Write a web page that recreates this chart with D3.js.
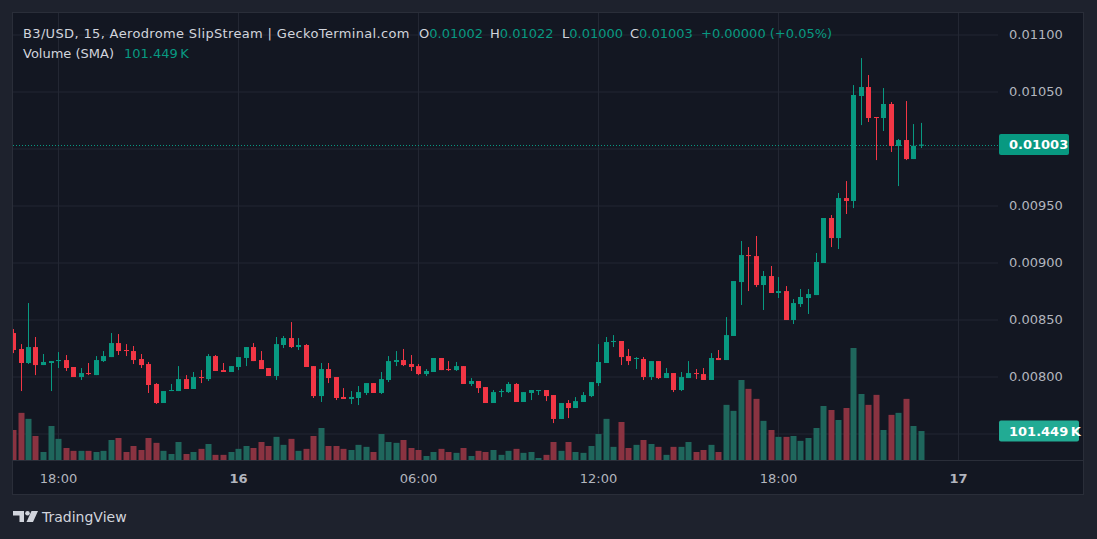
<!DOCTYPE html>
<html>
<head>
<meta charset="utf-8">
<script src="https://cdn.jsdelivr.net/npm/d3@7"></script>
<style>
  html, body { margin: 0; padding: 0; background: #1e222d; }
  svg { display: block; font-family: "DejaVu Sans", sans-serif; }
</style>
</head>
<body>
<svg id="chart"></svg>
<script>
let width = 1097
let height = 539

// 15 minute candles, B3/USD
let startTime = Date.UTC(2025, 2, 15, 16, 30)
let step = 15 * 60 * 1000

let open = [
  0.008377, 0.008237, 0.008114, 0.008254, 0.008096, 0.008114, 0.008131, 0.008140, 0.008079, 0.007991,
  0.008026, 0.008008, 0.008131, 0.008166, 0.008289, 0.008228, 0.008219, 0.008149, 0.008105, 0.007930,
  0.007763, 0.007868, 0.007868, 0.007973, 0.007886, 0.007991, 0.007973, 0.008175, 0.008052, 0.008035,
  0.008079, 0.008158, 0.008254, 0.008140, 0.008070, 0.008000, 0.008272, 0.008333, 0.008254, 0.008272,
  0.008087, 0.007824, 0.008061, 0.007991, 0.007816, 0.007798, 0.007807, 0.007851, 0.007938, 0.007851,
  0.007965, 0.008123, 0.008140, 0.008105, 0.008087, 0.008017, 0.008035, 0.008158, 0.008061, 0.008052,
  0.008087, 0.007930, 0.007956, 0.007903, 0.007763, 0.007859, 0.007859, 0.007930, 0.007772, 0.007851,
  0.007868, 0.007877, 0.007833, 0.007623, 0.007763, 0.007719, 0.007772, 0.007824, 0.007938, 0.008114,
  0.008298, 0.008307, 0.008175, 0.008149, 0.008149, 0.007991, 0.008131, 0.007982, 0.008026, 0.007877,
  0.007982, 0.008026, 0.008017, 0.007965, 0.008158, 0.008140, 0.008351, 0.008824, 0.009061, 0.009052,
  0.008798, 0.008877, 0.008728, 0.008745, 0.008491, 0.008631, 0.008684, 0.008710, 0.008991, 0.009386,
  0.009210, 0.009561, 0.009535, 0.010456, 0.010535, 0.010272, 0.010263, 0.010386, 0.010017, 0.010070,
  0.009903, 0.010020
]
let high = [
  0.008412, 0.008280, 0.008640, 0.008342, 0.008193, 0.008131, 0.008210, 0.008184, 0.008079, 0.008070,
  0.008114, 0.008175, 0.008219, 0.008377, 0.008368, 0.008280, 0.008263, 0.008193, 0.008123, 0.007938,
  0.007868, 0.007930, 0.008087, 0.008008, 0.008035, 0.008052, 0.008193, 0.008184, 0.008114, 0.008087,
  0.008166, 0.008254, 0.008289, 0.008219, 0.008070, 0.008342, 0.008351, 0.008473, 0.008333, 0.008280,
  0.008087, 0.008114, 0.008114, 0.007991, 0.007894, 0.007868, 0.007912, 0.007938, 0.007938, 0.008035,
  0.008175, 0.008219, 0.008237, 0.008184, 0.008105, 0.008061, 0.008158, 0.008158, 0.008131, 0.008123,
  0.008087, 0.007982, 0.007956, 0.007903, 0.007877, 0.007886, 0.007947, 0.007938, 0.007859, 0.007877,
  0.007877, 0.007877, 0.007833, 0.007763, 0.007789, 0.007815, 0.007859, 0.007947, 0.008280, 0.008342,
  0.008359, 0.008307, 0.008237, 0.008166, 0.008166, 0.008131, 0.008131, 0.008070, 0.008026, 0.008035,
  0.008131, 0.008061, 0.008070, 0.008201, 0.008228, 0.008517, 0.008833, 0.009184, 0.009131, 0.009228,
  0.008921, 0.008965, 0.008868, 0.008789, 0.008675, 0.008763, 0.008763, 0.009079, 0.009386, 0.009412,
  0.009605, 0.009710, 0.010552, 0.010789, 0.010640, 0.010272, 0.010526, 0.010403, 0.010079, 0.010412,
  0.010210, 0.010220
]
let low = [
  0.008201, 0.007868, 0.008105, 0.008008, 0.008096, 0.007868, 0.008070, 0.008044, 0.007991, 0.007965,
  0.008008, 0.008008, 0.008123, 0.008166, 0.008184, 0.008175, 0.008105, 0.008070, 0.007851, 0.007754,
  0.007763, 0.007868, 0.007868, 0.007886, 0.007886, 0.007938, 0.007956, 0.008044, 0.008035, 0.008035,
  0.008052, 0.008087, 0.008131, 0.008061, 0.008000, 0.007965, 0.008245, 0.008245, 0.008228, 0.008079,
  0.007807, 0.007772, 0.007938, 0.007789, 0.007798, 0.007754, 0.007745, 0.007833, 0.007851, 0.007842,
  0.007947, 0.008087, 0.008087, 0.008044, 0.008008, 0.008000, 0.008035, 0.008052, 0.008044, 0.008044,
  0.007930, 0.007912, 0.007851, 0.007763, 0.007763, 0.007815, 0.007851, 0.007772, 0.007772, 0.007789,
  0.007833, 0.007780, 0.007587, 0.007623, 0.007631, 0.007719, 0.007772, 0.007815, 0.007912, 0.008114,
  0.008254, 0.008096, 0.008096, 0.008061, 0.007965, 0.007965, 0.007973, 0.007982, 0.007859, 0.007868,
  0.007982, 0.007973, 0.007965, 0.007965, 0.008140, 0.008140, 0.008351, 0.008623, 0.008745, 0.008780,
  0.008579, 0.008728, 0.008684, 0.008491, 0.008456, 0.008605, 0.008544, 0.008710, 0.008991, 0.009131,
  0.009114, 0.009421, 0.009473, 0.010201, 0.010228, 0.009894, 0.010149, 0.009965, 0.009666, 0.009894,
  0.009903, 0.010000
]
let close = [
  0.008228, 0.008114, 0.008254, 0.008096, 0.008123, 0.008131, 0.008140, 0.008070, 0.007991, 0.008026,
  0.008017, 0.008140, 0.008175, 0.008289, 0.008219, 0.008219, 0.008140, 0.008096, 0.007921, 0.007763,
  0.007868, 0.007877, 0.007973, 0.007886, 0.007991, 0.007982, 0.008175, 0.008044, 0.008035, 0.008087,
  0.008166, 0.008254, 0.008131, 0.008061, 0.008000, 0.008280, 0.008333, 0.008254, 0.008272, 0.008079,
  0.007824, 0.008061, 0.007982, 0.007807, 0.007798, 0.007816, 0.007859, 0.007938, 0.007851, 0.007973,
  0.008131, 0.008140, 0.008096, 0.008079, 0.008017, 0.008044, 0.008158, 0.008052, 0.008052, 0.008087,
  0.007930, 0.007956, 0.007894, 0.007763, 0.007859, 0.007868, 0.007930, 0.007772, 0.007859, 0.007877,
  0.007877, 0.007824, 0.007623, 0.007763, 0.007719, 0.007780, 0.007833, 0.007947, 0.008123, 0.008298,
  0.008307, 0.008166, 0.008131, 0.008158, 0.007991, 0.008131, 0.007982, 0.008026, 0.007877, 0.007991,
  0.008026, 0.008017, 0.007965, 0.008158, 0.008140, 0.008359, 0.008833, 0.009061, 0.009052, 0.008798,
  0.008877, 0.008728, 0.008745, 0.008491, 0.008640, 0.008693, 0.008719, 0.009000, 0.009386, 0.009210,
  0.009561, 0.009535, 0.010465, 0.010535, 0.010263, 0.010263, 0.010386, 0.010017, 0.010070, 0.009903,
  0.010020, 0.010030
]
// volume in thousands
let volume = [
  105, 165, 144, 84, 28, 119, 74, 42, 32, 32,
  32, 28, 32, 70, 77, 28, 49, 35, 77, 60,
  32, 21, 63, 21, 28, 39, 56, 18, 18, 28,
  39, 49, 42, 63, 49, 81, 53, 74, 32, 39,
  84, 112, 49, 49, 39, 35, 53, 46, 28, 91,
  63, 60, 70, 42, 35, 14, 28, 39, 28, 25,
  42, 14, 32, 28, 35, 18, 32, 39, 25, 28,
  7, 18, 63, 32, 63, 28, 25, 49, 91, 144,
  46, 133, 42, 53, 70, 56, 46, 18, 46, 46,
  63, 28, 35, 53, 28, 193, 172, 280, 249, 214,
  137, 105, 81, 81, 84, 67, 77, 112, 189, 175,
  140, 182, 392, 231, 193, 228, 105, 158, 165, 214,
  119, 101.449
]

let priceTicks = [0.0075, 0.008, 0.0085, 0.009, 0.0095, 0.01, 0.0105, 0.011]
let priceLabels = [0.008, 0.0085, 0.009, 0.0095, 0.0105, 0.011]
let timeTicks = [
  Date.UTC(2025, 2, 15, 18), Date.UTC(2025, 2, 16, 0), Date.UTC(2025, 2, 16, 6),
  Date.UTC(2025, 2, 16, 12), Date.UTC(2025, 2, 16, 18), Date.UTC(2025, 2, 17, 0)
].map(d => new Date(d))
let changeText = '+0.00000 (+0.05%)'

let candles = open.map((o, i) => ({
  t: new Date(startTime + i * step),
  o: o, h: high[i], l: low[i], c: close[i], v: volume[i]
}))
let last = candles[candles.length - 1]

let up = '#089981'
let down = '#f23645'
let upVol = '#1f665c'
let downVol = '#8a3341'
let grid = '#232733'
let textCol = '#b2b5be'

let plotLeft = 13, plotRight = 998, plotTop = 13, plotBottom = 460

let xScale = d3.scaleUtc()
  .domain([timeTicks[0], timeTicks[5]])
  .range([58, 958])

let yScale = d3.scaleLinear()
  .domain([0.0075, 0.011])
  .range([433, 34])

let vScale = d3.scaleLinear()
  .domain([0, 350])
  .range([plotBottom, plotBottom - 100])

let fmt = d3.format('.5f')
let color = d => d.c >= d.o ? up : down

let svg = d3.select('#chart')
  .attr('width', width)
  .attr('height', height)

svg.append('rect')
  .attr('width', width).attr('height', height)
  .attr('fill', '#1e222d')

svg.append('rect')
  .attr('x', 12.5).attr('y', 12.5)
  .attr('width', 1071).attr('height', 482)
  .attr('fill', '#131722')
  .attr('stroke', '#2a2e39')

svg.append('defs').append('clipPath').attr('id', 'plot')
  .append('rect')
  .attr('x', plotLeft).attr('y', plotTop)
  .attr('width', plotRight - plotLeft).attr('height', plotBottom - plotTop)

// grid
let yGrid = svg.append('g')
  .attr('transform', 'translate(' + plotLeft + ',0.5)')
  .call(d3.axisRight(yScale).tickValues(priceTicks).tickSize(plotRight - plotLeft).tickFormat(''))
yGrid.select('.domain').remove()
yGrid.selectAll('line').attr('stroke', grid)

let xGrid = svg.append('g')
  .attr('transform', 'translate(0,' + plotBottom + ')')
  .call(d3.axisBottom(xScale).tickValues(timeTicks).tickSize(-(plotBottom - plotTop)).tickFormat(''))
xGrid.select('.domain').remove()
xGrid.selectAll('line').attr('stroke', grid)

svg.append('line')
  .attr('x1', plotLeft).attr('x2', 1083)
  .attr('y1', plotBottom + 0.5).attr('y2', plotBottom + 0.5)
  .attr('stroke', '#2a2e39')

let plot = svg.append('g').attr('clip-path', 'url(#plot)')

// volume
plot.selectAll('rect.vol')
  .data(candles)
  .enter()
  .append('rect')
  .attr('class', 'vol')
  .attr('x', d => Math.round(xScale(d.t)) - 2.5)
  .attr('y', d => vScale(d.v))
  .attr('width', 6)
  .attr('height', d => plotBottom - vScale(d.v))
  .attr('fill', d => d.c >= d.o ? upVol : downVol)

// last price line
plot.append('line')
  .attr('x1', plotLeft).attr('x2', plotRight)
  .attr('y1', Math.round(yScale(last.c)) + 0.5).attr('y2', Math.round(yScale(last.c)) + 0.5)
  .attr('stroke', up)
  .attr('stroke-dasharray', '1,2')

// candles
let candle = plot.selectAll('g.candle')
  .data(candles)
  .enter()
  .append('g')
  .attr('class', 'candle')

candle.append('line')
  .attr('x1', d => Math.round(xScale(d.t)) + 0.5)
  .attr('x2', d => Math.round(xScale(d.t)) + 0.5)
  .attr('y1', d => yScale(d.h))
  .attr('y2', d => yScale(d.l))
  .attr('stroke', color)

candle.append('rect')
  .attr('x', d => Math.round(xScale(d.t)) - 2)
  .attr('y', d => yScale(Math.max(d.o, d.c)))
  .attr('width', 5)
  .attr('height', d => Math.max(1, yScale(Math.min(d.o, d.c)) - yScale(Math.max(d.o, d.c))))
  .attr('fill', color)

// price axis
let yAxis = svg.append('g')
  .attr('transform', 'translate(1009,0)')
  .call(d3.axisRight(yScale).tickValues(priceLabels).tickSize(0).tickPadding(0).tickFormat(fmt))
yAxis.select('.domain').remove()
yAxis.selectAll('text')
  .attr('fill', textCol)
  .style('font-size', '13px')
  .style('font-family', '"DejaVu Sans", sans-serif')

// time axis
let xAxis = svg.append('g')
  .attr('transform', 'translate(0,470)')
  .call(d3.axisBottom(xScale).tickValues(timeTicks).tickSize(0).tickPadding(4)
    .tickFormat(d => d.getUTCHours() === 0 ? d3.utcFormat('%-d')(d) : d3.utcFormat('%H:%M')(d)))
xAxis.select('.domain').remove()
xAxis.selectAll('text')
  .attr('fill', textCol)
  .style('font-size', '13px')
  .style('font-family', '"DejaVu Sans", sans-serif')
  .style('font-weight', d => d.getUTCHours() === 0 ? 'bold' : 'normal')

// last price and volume labels
svg.append('rect')
  .attr('x', 999).attr('y', yScale(last.c) - 10.5)
  .attr('width', 70).attr('height', 21).attr('rx', 2)
  .attr('fill', up)
svg.append('text')
  .attr('x', 1009).attr('y', yScale(last.c))
  .attr('dy', '0.36em')
  .attr('fill', '#ffffff')
  .style('font-size', '13px')
  .style('font-weight', 'bold')
  .text(fmt(last.c))

svg.append('rect')
  .attr('x', 999).attr('y', vScale(last.v) - 10.5)
  .attr('width', 80).attr('height', 21).attr('rx', 2)
  .attr('fill', '#22ab94')
svg.append('text')
  .attr('x', 1009).attr('y', vScale(last.v))
  .attr('dy', '0.36em')
  .attr('fill', '#ffffff')
  .style('font-size', '13px')
  .style('font-weight', 'bold')
  .text(d3.format('.3f')(last.v) + '\u2009K')

// legend
svg.append('text')
  .attr('x', 23).attr('y', 37.5)
  .attr('fill', '#d1d4dc')
  .style('font-size', '13px')
  .style('letter-spacing', '0.35px')
  .text('B3/USD, 15, Aerodrome SlipStream | GeckoTerminal.com')

let ohlc = [['O', last.o, 419], ['H', last.h, 490], ['L', last.l, 562], ['C', last.c, 630]]
ohlc.forEach(l => {
  let t = svg.append('text')
    .attr('x', l[2]).attr('y', 37.5)
    .style('font-size', '13px')
  t.append('tspan').attr('fill', '#d1d4dc').text(l[0])
  t.append('tspan').attr('fill', up).text(fmt(l[1]))
})
svg.append('text')
  .attr('x', 701).attr('y', 37.5)
  .attr('fill', up)
  .style('font-size', '13px')
  .text(changeText)

let volLegend = svg.append('text')
  .attr('x', 23).attr('y', 58)
  .style('font-size', '13px')
volLegend.append('tspan').attr('fill', '#d1d4dc').text('Volume (SMA)')
volLegend.append('tspan').attr('x', 124).attr('fill', up).text(d3.format('.3f')(last.v) + '\u2009K')

// TradingView mark
let logo = svg.append('g').attr('fill', '#d1d4dc')
logo.append('path').attr('d', 'M13,511 H24 V522 H19.5 V515.5 H13 Z')
logo.append('circle').attr('cx', 27.5).attr('cy', 513.3).attr('r', 2.3)
logo.append('path').attr('d', 'M31.5,511 H38 L33,522 H26.5 Z')
logo.append('text')
  .attr('x', 42).attr('y', 522)
  .style('font-size', '14px')
  .text('TradingView')
</script>
</body>
</html>
